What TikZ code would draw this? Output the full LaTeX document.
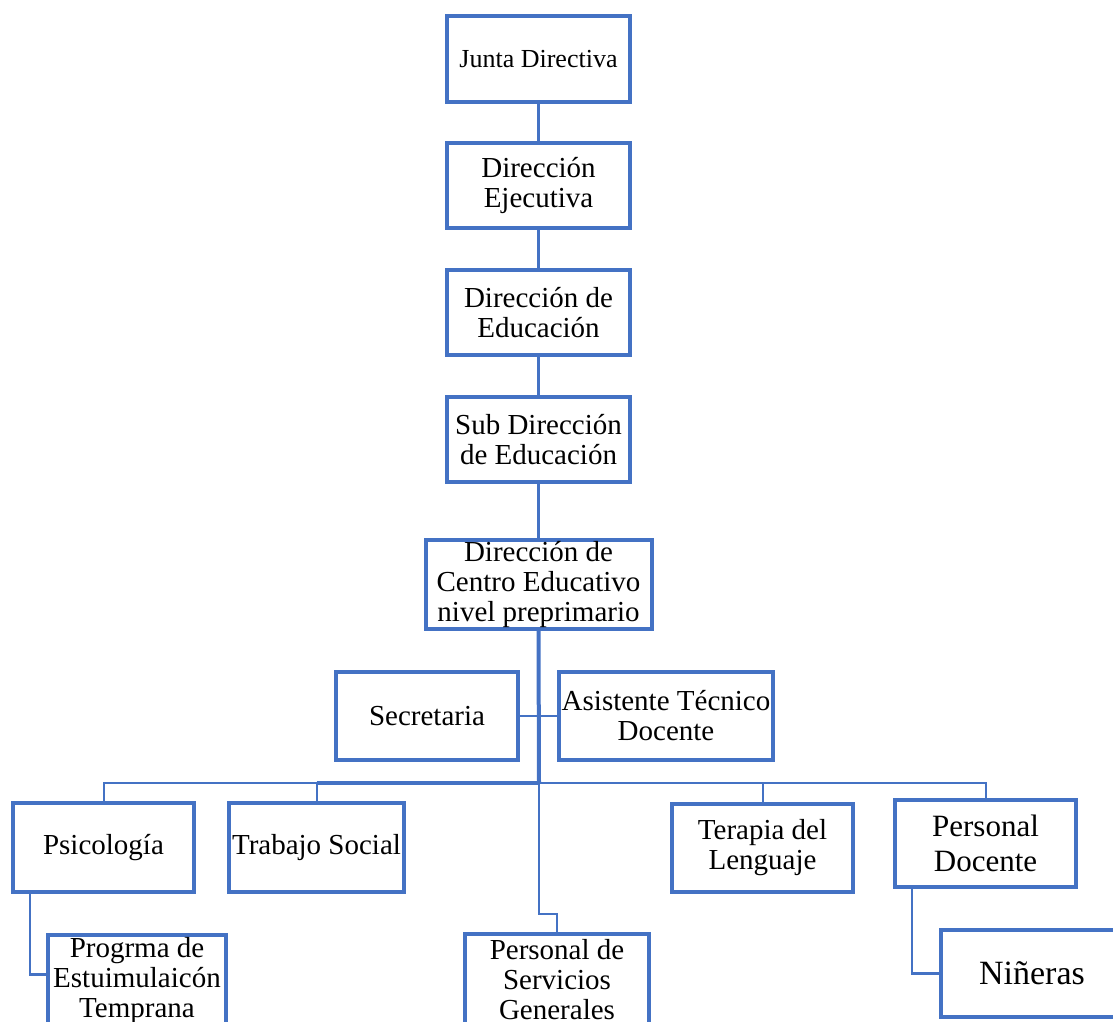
\documentclass[tikz,border=0pt]{standalone}
\usepackage{fontspec}
\setmainfont{Liberation Serif}
\usetikzlibrary{calc}
\definecolor{orgblue}{RGB}{68,114,196}
\begin{document}
\begin{tikzpicture}[x=1pt,y=-1pt,line join=miter,
	box/.style={draw=orgblue,line width=4pt,inner sep=0pt,align=center,font=\fontsize{29}{30}\selectfont},
	link/.style={draw=orgblue,line width=2.5pt},
	thinlink/.style={draw=orgblue,line width=2pt},
	thicklink/.style={draw=orgblue,line width=4pt}]
	\useasboundingbox (0,0) rectangle (1113,1021);
	\clip (0,0) rectangle (1113,1021);
	\node[box,minimum width=183pt,minimum height=86pt,font=\fontsize{26}{28}\selectfont] (junta) at (538.5,59) {Junta Directiva};
	\node[box,minimum width=183pt,minimum height=85pt] (ejec) at (538.5,185.5) {Dirección\\Ejecutiva};
	\node[box,minimum width=183pt,minimum height=85pt] (educ) at (538.5,312.5) {Dirección de\\Educación};
	\node[box,minimum width=183pt,minimum height=85pt] (subdir) at (538.5,439.5) {Sub Dirección\\de Educación};
	\node[box,minimum width=226pt,minimum height=89pt] (centro) at (538.5,584.5) {Dirección de\\Centro Educativo\\nivel preprimario};
	\node[box,minimum width=182pt,minimum height=88pt] (secr) at (427,716) {Secretaria};
	\node[box,minimum width=214pt,minimum height=88pt] (asist) at (666,716) {Asistente Técnico\\Docente};
	\node[box,minimum width=181pt,minimum height=89pt] (psic) at (103.5,847.5) {Psicología};
	\node[box,minimum width=175pt,minimum height=89pt] (trab) at (316.5,847.5) {Trabajo Social};
	\node[box,minimum width=181pt,minimum height=88pt] (terap) at (762.5,848) {Terapia del\\Lenguaje};
	\node[box,minimum width=181pt,minimum height=87pt,font=\fontsize{31}{35}\selectfont] (doc) at (985.5,843.5) {Personal\\Docente};
	\node[box,minimum width=178pt,minimum height=91pt] (prog) at (137,980.5) {Progrma de\\Estuimulaicón\\Temprana};
	\node[box,minimum width=184pt,minimum height=91pt] (serv) at (557,979.5) {Personal de\\Servicios\\Generales};
	\node[box,minimum width=182pt,minimum height=87pt,font=\fontsize{34}{36}\selectfont] (nin) at (1032,973.5) {Niñeras};
	\coordinate (bus) at (539,783);
	\coordinate (bend) at (539,914);
	\draw[link] (junta) -- (ejec);
	\draw[link] (ejec) -- (educ);
	\draw[link] (educ) -- (subdir);
	\draw[link] (subdir) -- (centro);
	\draw[thicklink] (centro.south) -- (bus);
	\draw[thinlink] (secr) -- (asist);
	\draw[thinlink] (psic.north) |- (trab.north |- bus);
	\draw[thinlink] (trab.north) -- (trab.north |- bus);
	\draw[thicklink] (trab.north |- bus) -- (bus);
	\draw[thinlink] (bus) -| (terap.north);
	\draw[thinlink] (terap.north |- bus) -| (doc.north);
	\draw[thinlink] (bus) -- (bend) -| (serv.north);
	\draw[link] ($(psic.south west)+(19,0)$) |- ($(prog.west)+(0,-6)$);
	\draw[link] ($(doc.south west)+(19,0)$) |- (nin.west);
\end{tikzpicture}
\end{document}
